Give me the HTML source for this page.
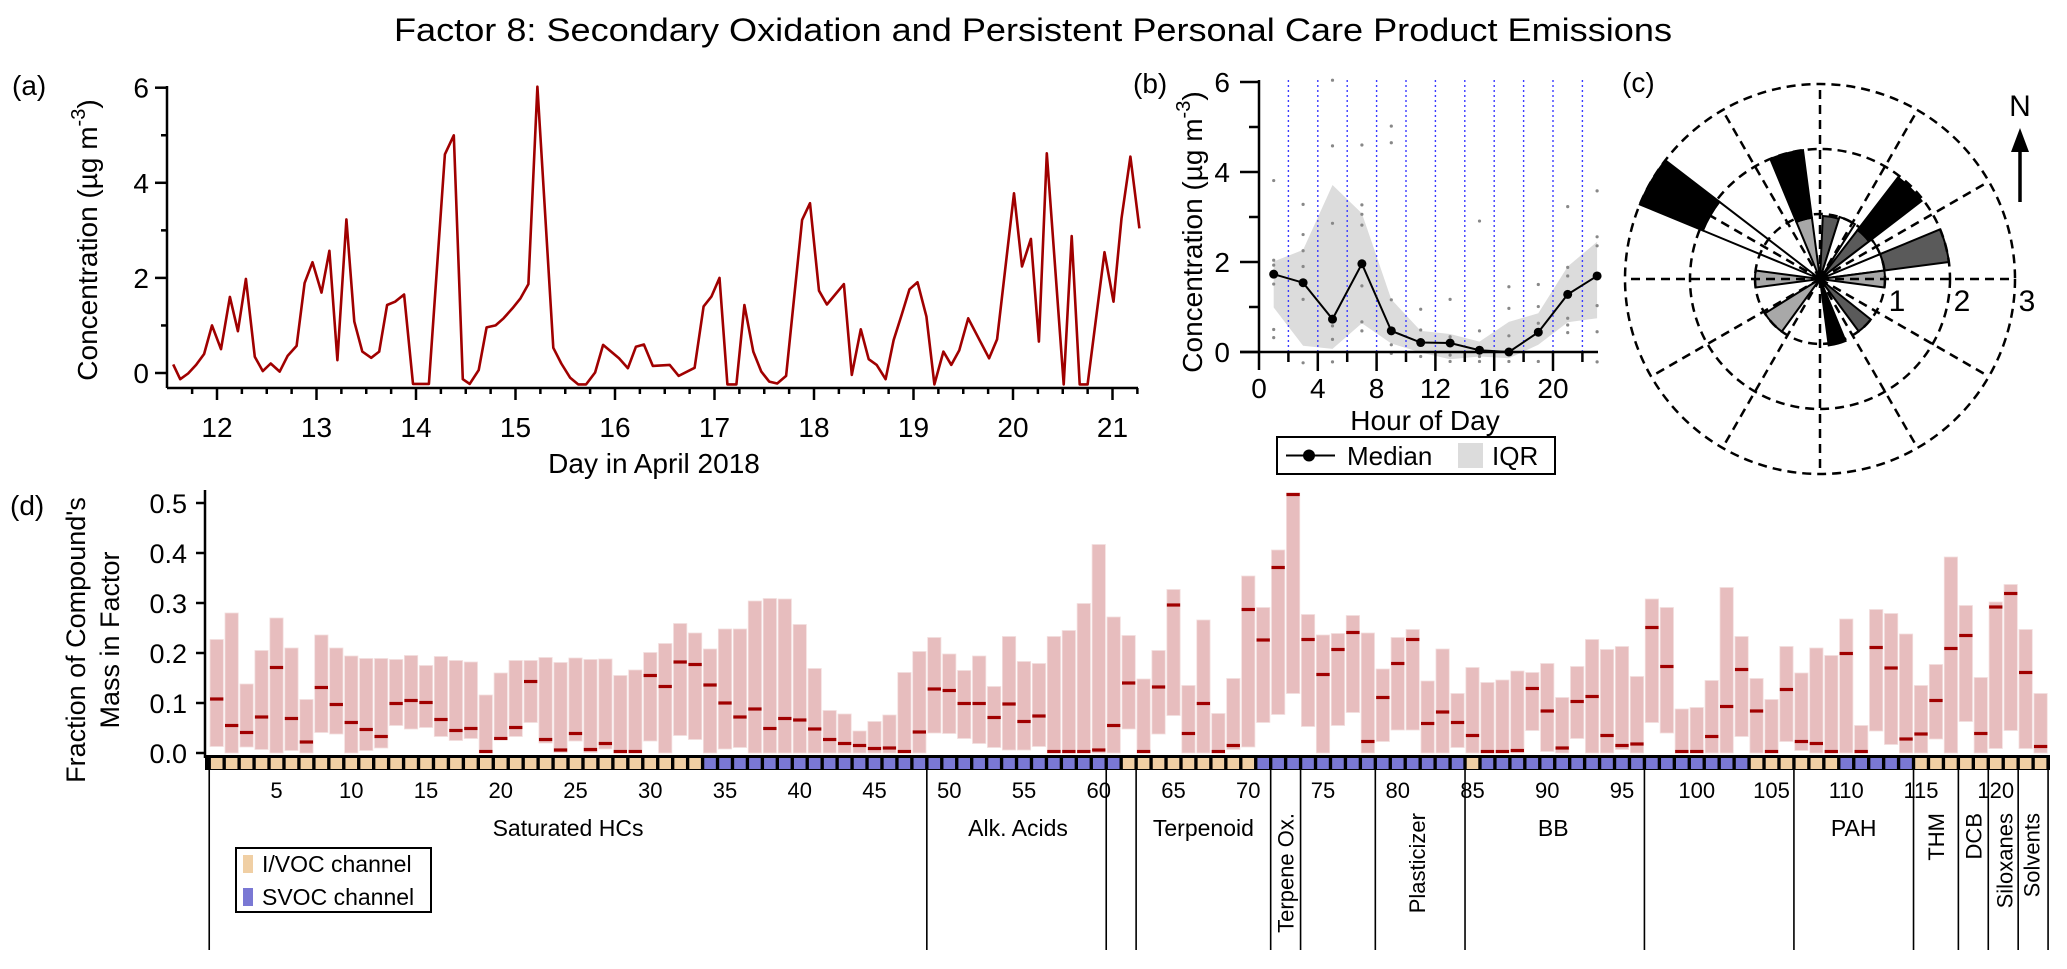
<!DOCTYPE html>
<html><head><meta charset="utf-8"><title>Factor 8</title>
<style>
html,body{margin:0;padding:0;background:#fff;}
svg{display:block;font-family:"Liberation Sans",Arial,sans-serif;}
</style></head>
<body>
<svg id="chart" xmlns="http://www.w3.org/2000/svg" width="2067" height="969" viewBox="0 0 2067 969">
<rect width="2067" height="969" fill="#fff"/>
<text x="1033" y="41" font-size="32" text-anchor="middle" textLength="1278" lengthAdjust="spacingAndGlyphs">Factor 8: Secondary Oxidation and Persistent Personal Care Product Emissions</text>
<g id="pa"></g>
<g id="pb"></g>
<g id="pc"></g>
<g id="pd"></g>
</svg>
<script>
// ---------- Panel (a) data ----------
const aDays=[11.56,11.63,11.71,11.79,11.87,11.95,12.04,12.13,12.21,12.29,12.38,12.46,12.54,12.63,12.71,12.80,12.88,12.96,13.05,13.13,13.21,13.30,13.38,13.46,13.55,13.63,13.71,13.79,13.88,13.97,14.13,14.29,14.38,14.47,14.54,14.63,14.71,14.80,14.88,14.97,15.05,15.13,15.22,15.38,15.46,15.55,15.63,15.71,15.80,15.88,16.04,16.13,16.21,16.29,16.38,16.55,16.64,16.80,16.89,16.97,17.05,17.13,17.22,17.30,17.39,17.47,17.55,17.63,17.72,17.88,17.96,18.05,18.13,18.30,18.38,18.47,18.55,18.63,18.72,18.80,18.88,18.96,19.04,19.13,19.21,19.30,19.38,19.46,19.55,19.76,19.84,20.01,20.09,20.18,20.26,20.34,20.51,20.59,20.67,20.75,20.92,21.01,21.09,21.18,21.27];
const aConc=[0.18,-0.13,-0.01,0.17,0.40,1.00,0.50,1.60,0.88,1.98,0.34,0.04,0.20,0.03,0.36,0.57,1.89,2.33,1.69,2.57,0.27,3.23,1.08,0.45,0.32,0.45,1.43,1.50,1.65,-0.23,-0.23,4.60,5.00,-0.13,-0.23,0.06,0.96,1.00,1.15,1.36,1.57,1.87,6.02,0.53,0.20,-0.10,-0.24,-0.24,0.01,0.59,0.31,0.10,0.55,0.60,0.15,0.17,-0.06,0.11,1.40,1.61,2.00,-0.24,-0.24,1.43,0.45,0.03,-0.18,-0.22,-0.06,3.22,3.57,1.73,1.44,1.87,-0.04,0.92,0.29,0.17,-0.13,0.69,1.22,1.76,1.91,1.19,-0.24,0.45,0.17,0.48,1.15,0.31,0.71,3.78,2.24,2.82,0.66,4.62,-0.24,2.88,-0.24,-0.24,2.54,1.50,3.25,4.55,3.04];
const aXTicks=[12,13,14,15,16,17,18,19,20,21];
const aYTicks=[0,2,4,6];
// ---------- Panel (b) data ----------
const bHours=[1,3,5,7,9,11,13,15,17,19,21,23];
const bMedian=[1.73,1.54,0.73,1.96,0.47,0.21,0.20,0.04,0.00,0.44,1.28,1.69];
const bQ3=[2.01,2.27,3.71,3.08,1.17,0.47,0.40,0.23,0.67,0.86,1.90,2.45];
const bQ1=[0.99,0.14,0.07,0.64,0.19,-0.01,-0.16,-0.10,-0.14,0.16,0.66,0.75];
const bDotHours=[1,1,1,1,1,1,3,3,3,3,3,3,5,5,5,5,5,5,7,7,7,7,7,7,7,9,9,9,9,9,11,11,11,13,13,13,13,15,15,15,15,17,17,17,17,19,19,19,19,21,21,21,21,21,21,23,23,23,23,23,23];
const bDotVals=[3.81,2.04,1.93,1.51,0.50,0.32,3.28,2.61,2.25,1.90,1.17,-0.24,6.04,4.58,2.86,0.58,0.28,-0.22,4.60,3.27,3.06,2.82,1.47,0.67,0.47,5.02,4.65,1.16,0.16,-0.03,0.95,0.49,-0.10,1.17,0.34,-0.07,-0.21,2.91,0.47,-0.10,-0.21,1.45,0.97,0.36,-0.21,1.50,1.01,0.64,-0.21,3.23,1.88,1.69,0.75,0.60,0.43,3.58,2.56,2.36,1.03,0.45,-0.22];
const bXTicks=[0,4,8,12,16,20];
const bYTicks=[0,2,4,6];
// ---------- Panel (c) data ----------
const roseDir=[300,345,10,45,75,90,270,227,165,136,25,60];
const roseInner=[1.95,0.95,0.97,0.95,1.0,1.0,1.0,1.0,1.03,1.0,1.0,1.0];
const roseOuter=[3.0,2.0,0.97,1.97,2.0,1.0,1.0,1.0,1.03,1.0,1.0,1.0];
const roseRings=[1,2,3];
// ---------- Panel (d) data ----------
const dTop=[.227,.28,.138,.205,.27,.21,.107,.236,.21,.194,.189,.189,.187,.195,.175,.193,.185,.182,.116,.16,.185,.185,.191,.181,.19,.187,.188,.155,.166,.201,.219,.259,.24,
.208,.248,.248,.304,.309,.308,.257,.169,.085,.078,.044,.063,.076,.161,.203,.231,.198,.165,.194,.133,.233,.183,.179,.233,.245,.299,.417,.272,.235,.148,.205,.327,.135,.266,
.079,.149,.354,.291,.406,.52,.277,.236,.239,.275,.24,.168,.231,.247,.144,.208,.119,.171,.141,.146,.164,.161,.179,.111,.173,.227,.207,.213,.153,.308,.291,.088,.091,.145,
.331,.233,.149,.107,.213,.16,.21,.195,.268,.055,.287,.279,.238,.135,.177,.392,.295,.151,.302,.337,.247,.119];
const dBottom=[.013,0,.012,.007,0,.005,0,.041,.038,0,.005,.01,.055,.048,.051,.033,.025,.029,0,.027,.033,.061,.02,.001,.024,.001,.008,0,0,.024,0,.035,.027,
0,.008,.011,0,0,0,0,0,0,0,0,0,0,0,0,.04,.039,.029,.019,.011,.006,.006,.013,0,0,0,0,0,.048,0,.038,.075,0,0,
0,.007,.012,.061,.077,.119,.053,0,.055,.081,0,.023,.046,.046,0,0,.011,0,0,0,0,.045,.003,0,.029,0,0,.007,0,.061,.04,0,0,0,
0,.033,0,0,.023,.005,0,0,0,0,.044,.017,0,0,.028,0,.063,0,.009,.045,.009,0];
const dMedian=[.108,.055,.041,.072,.171,.069,.022,.131,.097,.061,.047,.033,.099,.105,.101,.067,.045,.049,.003,.029,.051,.143,.027,.006,.039,.007,.019,.003,.003,.155,.133,.182,.177,
.136,.1,.072,.088,.049,.069,.066,.048,.027,.019,.015,.009,.01,.003,.042,.128,.125,.099,.099,.071,.098,.063,.074,.003,.003,.003,.006,.055,.14,.003,.132,.296,.039,.099,
.003,.015,.287,.226,.371,.517,.227,.157,.207,.241,.023,.111,.179,.227,.059,.082,.061,.035,.003,.003,.005,.129,.084,.01,.103,.113,.035,.015,.018,.251,.173,.003,.003,.033,
.093,.167,.084,.003,.127,.023,.019,.003,.199,.003,.211,.17,.028,.038,.105,.209,.235,.039,.292,.319,.161,.013];
const dChannelRuns=[[1,33,'I'],[34,61,'S'],[62,70,'I'],[71,84,'S'],[85,85,'I'],[86,103,'S'],[104,109,'I'],[110,114,'S'],[115,123,'I']];
const dBoundaries=[48.5,60.5,62.5,71.5,73.5,78.5,84.5,96.5,106.5,114.5,117.5,119.5,121.5];
const dGroupNames=['Saturated HCs','Alk. Acids','Terpenoid','Terpene Ox.','Plasticizer','BB','PAH','THM','DCB','Siloxanes','Solvents'];
const dGroupCenters=[24.5,54.6,67,72.5,81.3,90.4,110.5,116,118.5,120.6,122.4];
const dGroupRotated=[false,false,false,true,true,false,false,true,true,true,true];
const dXTicks=[5,10,15,20,25,30,35,40,45,50,55,60,65,70,75,80,85,90,95,100,105,110,115,120];
const dYTicks=[0,0.1,0.2,0.3,0.4,0.5];

const NS='http://www.w3.org/2000/svg';
function mk(tag,attrs,parent){const e=document.createElementNS(NS,tag);for(const k in attrs)e.setAttribute(k,attrs[k]);parent.appendChild(e);return e;}
function txt(str,attrs,parent){const e=mk('text',attrs,parent);e.textContent=str;return e;}

// ===== Panel (a) =====
(function(){
const g=document.getElementById('pa');
const xA=d=>217+(d-12)*99.5, yA=v=>373-v*47.55;
let e;
e=txt('(a)',{x:12,y:95,'font-size':28},g);


e=mk('line',{x1:167,y1:86,x2:167,y2:388,stroke:'#000','stroke-width':2.5},g);


e=mk('line',{x1:167,y1:388,x2:1138,y2:388,stroke:'#000','stroke-width':2.5},g);


for(let v=0;v<=6;v++){
  const t=mk('line',{x1:167,x2:v%2?161:155,y1:yA(v),y2:yA(v),stroke:'#000','stroke-width':2.5},g);
  
  
}
aYTicks.forEach(v=>{const t=txt(String(v),{x:149,y:yA(v)+10,'font-size':28,'text-anchor':'end'},g);
  
  });
for(let d=11.75;d<=21.26;d+=0.25){
  const major=Math.abs(d-Math.round(d))<0.01;
  const t=mk('line',{x1:xA(d),x2:xA(d),y1:388,y2:major?400:394,stroke:'#000','stroke-width':2.5},g);
  
  
}
aXTicks.forEach(d=>{const t=txt(String(d),{x:xA(d),y:437,'font-size':28,'text-anchor':'middle'},g);
  
  });
e=txt('Day in April 2018',{x:654,y:473,'font-size':28,'text-anchor':'middle'},g);


e=mk('text',{transform:'translate(97,240) rotate(-90)','font-size':28,'text-anchor':'middle'},g);
e.innerHTML='Concentration (µg m<tspan dy="-12" font-size="20">-3</tspan><tspan dy="12">)</tspan>';


const pts=aDays.map((d,i)=>xA(d).toFixed(1)+','+yA(aConc[i]).toFixed(1)).join(' ');
e=mk('polyline',{points:pts,fill:'none',stroke:'#a00000','stroke-width':2.6,'stroke-linejoin':'round'},g);


})();

// ===== Panel (b) =====
(function(){
const g=document.getElementById('pb');
const xB=h=>1259+h*14.7, yB=v=>352-v*45;
let e;
e=txt('(b)',{x:1133,y:93,'font-size':28},g);


const up=bHours.map((h,i)=>xB(h)+','+yB(bQ3[i]));
const lo=bHours.map((h,i)=>xB(h)+','+yB(bQ1[i])).reverse();
e=mk('polygon',{points:up.concat(lo).join(' '),fill:'#dcdcdc'},g);


for(let h=2;h<=22;h+=2){
  const l=mk('line',{x1:xB(h),x2:xB(h),y1:80,y2:352,stroke:'#3b3bff','stroke-width':1.4,'stroke-dasharray':'2 3'},g);
  
  
}
bDotHours.forEach((h,i)=>{const c=mk('circle',{cx:xB(h),cy:yB(bDotVals[i]),r:1.6,fill:'#888'},g);
  
  });
e=mk('line',{x1:1259,y1:80,x2:1259,y2:370,stroke:'#000','stroke-width':2.5},g);


e=mk('line',{x1:1240,y1:352,x2:1598,y2:352,stroke:'#000','stroke-width':2.5},g);


for(let v=0;v<=6;v++){
  const t=mk('line',{x1:1259,x2:v%2?1249:1240,y1:yB(v),y2:yB(v),stroke:'#000','stroke-width':2.5},g);
  
  
}
bYTicks.forEach(v=>{const t=txt(String(v),{x:1230,y:yB(v)+10,'font-size':28,'text-anchor':'end'},g);
  
  });
for(let h=2;h<=22;h+=2){
  const t=mk('line',{x1:xB(h),x2:xB(h),y1:352,y2:h%4?362:371,stroke:'#000','stroke-width':2.5},g);
  
  
}
bXTicks.forEach(h=>{const t=txt(String(h),{x:xB(h),y:398,'font-size':28,'text-anchor':'middle'},g);
  
  });
e=txt('Hour of Day',{x:1425,y:430,'font-size':28,'text-anchor':'middle'},g);


e=mk('text',{transform:'translate(1202,232) rotate(-90)','font-size':28,'text-anchor':'middle'},g);
e.innerHTML='Concentration (µg m<tspan dy="-12" font-size="20">-3</tspan><tspan dy="12">)</tspan>';


const mp=bHours.map((h,i)=>xB(h)+','+yB(bMedian[i])).join(' ');
e=mk('polyline',{points:mp,fill:'none',stroke:'#000','stroke-width':2},g);


bHours.forEach((h,i)=>{const c=mk('circle',{cx:xB(h),cy:yB(bMedian[i]),r:4.5,fill:'#000'},g);
  
  });
// legend
const lg=mk('g',{},g);


e=mk('rect',{x:1277,y:437,width:278,height:37,fill:'#fff',stroke:'#000','stroke-width':2},lg);


e=mk('line',{x1:1286,x2:1335,y1:455.5,y2:455.5,stroke:'#000','stroke-width':2},lg);


e=mk('circle',{cx:1309,cy:455.5,r:6,fill:'#000'},lg);


e=txt('Median',{x:1347,y:465,'font-size':26},lg);


e=mk('rect',{x:1458,y:443,width:25,height:25,fill:'#dcdcdc'},lg);


e=txt('IQR',{x:1492,y:465,'font-size':26},lg);


})();

// ===== Panel (c) =====
(function(){
const g=document.getElementById('pc');
const cx=1820, cy=279, U=65;
const P=(dir,r)=>{const a=dir*Math.PI/180;return [cx+r*U*Math.sin(a),cy-r*U*Math.cos(a)];};
const fmt=p=>p[0].toFixed(1)+' '+p[1].toFixed(1);
function sector(dir,r0,r1,w){
  const a1=dir-w/2,a2=dir+w/2;
  if(r0<=0){return 'M'+cx+' '+cy+' L'+fmt(P(a1,r1))+' A'+(r1*U)+' '+(r1*U)+' 0 0 1 '+fmt(P(a2,r1))+' Z';}
  return 'M'+fmt(P(a1,r0))+' L'+fmt(P(a1,r1))+' A'+(r1*U)+' '+(r1*U)+' 0 0 1 '+fmt(P(a2,r1))+' L'+fmt(P(a2,r0))+' A'+(r0*U)+' '+(r0*U)+' 0 0 0 '+fmt(P(a1,r0))+' Z';
}
const innerColor=['#fff','#a8a8a8','#5a5a5a','#5a5a5a','#fff','#a8a8a8','#a8a8a8','#a8a8a8','#000','#5a5a5a','#fff','#fff'];
const outerColor=['#000','#000','#000','#000','#5a5a5a','#000','#000','#000','#000','#000','#000','#000'];
let e;
e=txt('(c)',{x:1622,y:92,'font-size':28},g);


roseDir.forEach((d,i)=>{
  const w=d===227?22:15;
  let s=mk('path',{d:sector(d,0,roseInner[i],w),fill:innerColor[i],stroke:'#000','stroke-width':2},g);
  
  
  if(roseOuter[i]>roseInner[i]+0.01){
    s=mk('path',{d:sector(d,roseInner[i],roseOuter[i],w),fill:outerColor[i],stroke:'#000','stroke-width':2},g);
    
    
  }
});
roseRings.forEach(r=>{const c=mk('circle',{cx:cx,cy:cy,r:r*U,fill:'none',stroke:'#000','stroke-width':2.5,'stroke-dasharray':'9 6'},g);
  
  });
for(let a=0;a<360;a+=30){
  const p=P(a,3.0);
  const l=mk('line',{x1:cx,y1:cy,x2:p[0],y2:p[1],stroke:'#000','stroke-width':2.5,'stroke-dasharray':'9 6'},g);
  
  
}
roseRings.forEach(r=>{const t=txt(String(r),{x:cx+r*U+12,y:cy+32,'font-size':30,'text-anchor':'middle'},g);
  
  });
e=txt('N',{x:2020,y:116,'font-size':30,'text-anchor':'middle'},g);


e=mk('line',{x1:2020,y1:202,x2:2020,y2:140,stroke:'#000','stroke-width':3.5},g);


e=mk('polygon',{points:'2020,128 2011,152 2029,152',fill:'#000'},g);


})();

// ===== Panel (d) =====
(function(){
const g=document.getElementById('pd');
const xD=i=>216.7+(i-1)*14.95, yD=v=>753-v*500, BW=13.3;
let e;
e=txt('(d)',{x:10,y:515,'font-size':28},g);


e=txt("Fraction of Compound's",{transform:'translate(85,640) rotate(-90)','font-size':27,'text-anchor':'middle'},g);


e=txt('Mass in Factor',{transform:'translate(119,640) rotate(-90)','font-size':27,'text-anchor':'middle'},g);


dTop.forEach((t,k)=>{
  const i=k+1;
  const r=mk('rect',{x:xD(i)-BW/2,y:yD(t),width:BW,height:yD(dBottom[k])-yD(t),fill:'#e7bdbe',stroke:'#f3dede','stroke-width':0.8},g);
  
  
  const m=mk('rect',{x:xD(i)-BW/2,y:yD(dMedian[k])-1.6,width:BW,height:3.2,fill:'#a00000'},g);
  
  
});
e=mk('line',{x1:205,y1:490,x2:205,y2:758,stroke:'#000','stroke-width':2.5},g);


dYTicks.forEach(v=>{
  const t=mk('line',{x1:196,x2:205,y1:yD(v),y2:yD(v),stroke:'#000','stroke-width':2.5},g);
  
  
  const l=txt(v.toFixed(1),{x:187,y:yD(v)+10,'font-size':27,'text-anchor':'end'},g);
  
  
});
// channel strip
e=mk('rect',{x:205,y:755,width:1845,height:15,fill:'#000'},g);


dChannelRuns.forEach(run=>{
  for(let i=run[0];i<=run[1];i++){
    const s=mk('rect',{x:xD(i)-5.8,y:758,width:11.6,height:11,fill:run[2]==='I'?'#f0cfa4':'#7a78d4'},g);
    
    
  }
});
// separators
const lefts=[0.5].concat(dBoundaries).concat([123.5]);
lefts.forEach(b=>{const l=mk('line',{x1:xD(b),x2:xD(b),y1:770,y2:950,stroke:'#000','stroke-width':1.6},g);
  
  });
dXTicks.forEach(i=>{const t=txt(String(i),{x:xD(i),y:798,'font-size':22,'text-anchor':'middle'},g);
  
  });
dGroupNames.forEach((n,k)=>{
  const x=xD(dGroupCenters[k]);
  let t;
  if(dGroupRotated[k]){
    t=txt(n,{transform:'translate('+(x+8)+',813) rotate(-90)','font-size':22,'text-anchor':'end'},g);
  } else {
    t=txt(n,{x:x,y:836,'font-size':23,'text-anchor':'middle'},g);
  }
  
  
});
// legend
const lg=mk('g',{},g);


e=mk('rect',{x:236,y:848,width:195,height:64,fill:'#fff',stroke:'#000','stroke-width':2},lg);


e=mk('rect',{x:243,y:855,width:10,height:18,fill:'#f0cfa4'},lg);


e=txt('I/VOC channel',{x:262,y:872,'font-size':23},lg);


e=mk('rect',{x:243,y:888,width:10,height:18,fill:'#7a78d4'},lg);


e=txt('SVOC channel',{x:262,y:905,'font-size':23},lg);


})();
</script>
</body></html>
